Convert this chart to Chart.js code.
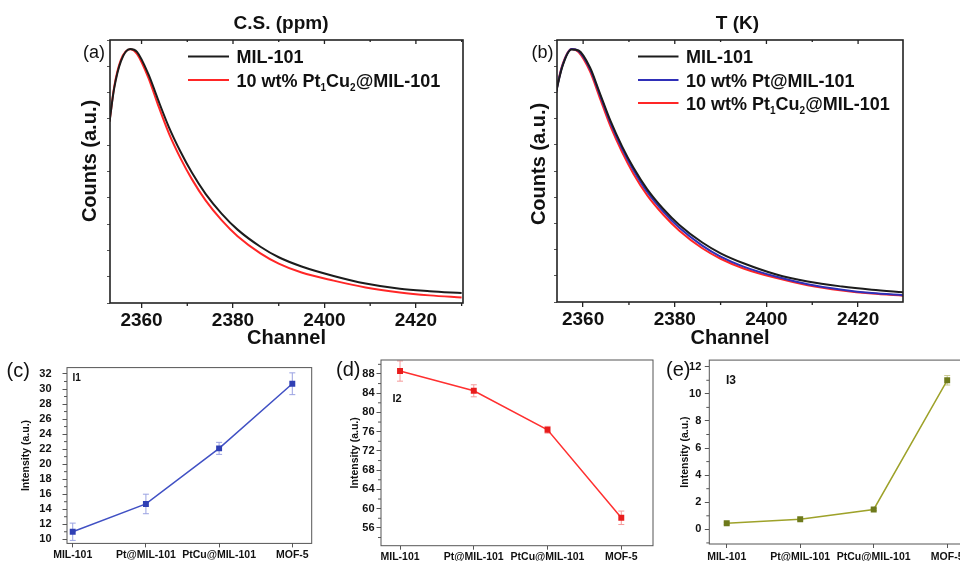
<!DOCTYPE html>
<html>
<head>
<meta charset="utf-8">
<script src="https://cdn.jsdelivr.net/npm/chart.js@4.4.0/dist/chart.umd.min.js"></script>
<style>
  html, body { margin: 0; padding: 0; background: #fff; }
  body { width: 960px; height: 561px; overflow: hidden; position: relative; }
  canvas { position: absolute; }
</style>
</head>
<body>
<canvas id="chartA" width="480" height="350" style="left:0;top:0"></canvas>
<canvas id="chartB" width="480" height="350" style="left:480px;top:0"></canvas>
<canvas id="chartC" width="320" height="211" style="left:0;top:350px"></canvas>
<canvas id="chartD" width="340" height="211" style="left:320px;top:350px"></canvas>
<canvas id="chartE" width="340" height="211" style="left:650px;top:350px"></canvas>
<script>
const FONT = "'Liberation Sans', Arial, sans-serif";

// decay curves (counts, arbitrary units) vs. channel
const channels = [2353, 2354, 2355.5, 2357.5, 2359, 2361.5, 2363.5, 2366, 2368.5, 2371, 2374, 2377.5, 2381, 2386, 2390, 2395, 2402, 2409, 2416.5, 2423, 2430];
const channelTicks = [2360, 2380, 2400, 2420];

const csMil101 = [69, 81.5, 92, 96.6, 95.5, 87.0, 77.8, 66.8, 57.6, 49.6, 41.5, 34.0, 27.9, 21.4, 17.4, 13.9, 10.3, 7.4, 5.4, 4.5, 3.8];
const csPtCu = [69, 82, 92.5, 96.5, 94.7, 85.6, 75.8, 64.4, 55.1, 47.1, 39.0, 31.5, 25.4, 18.9, 15.0, 11.6, 8.5, 5.9, 4.0, 2.9, 2.1];

const tMil101 = [69, 79, 90, 96.4, 96.0, 89.5, 80.4, 69.0, 59.4, 51.2, 43.0, 35.5, 29.4, 22.7, 18.6, 14.8, 10.6, 7.8, 5.9, 4.7, 3.7];
const tPt = [69, 79.2, 90.3, 96.6, 95.8, 89.0, 79.8, 68.3, 58.6, 50.3, 42.0, 34.5, 28.3, 21.5, 17.3, 13.5, 9.7, 6.8, 4.7, 3.4, 2.6];
const tPtCu = [69, 79.4, 90.6, 96.6, 95.4, 88.0, 78.6, 66.9, 57.2, 48.9, 40.7, 33.3, 27.2, 20.5, 16.5, 12.8, 9.2, 6.4, 4.4, 3.2, 2.4];

// component intensities per sample
const samples = ['MIL-101', 'Pt@MIL-101', 'PtCu@MIL-101', 'MOF-5'];
const i1 = [11.0, 14.7, 22.1, 30.7];
const i1Err = [1.15, 1.3, 0.8, 1.45];
const i2 = [88.6, 84.5, 76.4, 58.1];
const i2Err = [2.1, 1.25, 0.7, 1.4];
const i3 = [0.45, 0.74, 1.47, 11.0];
const i3Err = [0.08, 0.08, 0.08, 0.35];

Chart.defaults.font.family = FONT;
Chart.defaults.color = '#111';

// '_x' puts the character x in subscript
function richText(ctx, text, x, y, size) {
  ctx.textAlign = 'left';
  ctx.textBaseline = 'middle';
  let cx = x;
  text.split(/(_.)/).forEach((part) => {
    if (!part) { return; }
    const sub = part[0] === '_';
    const str = sub ? part.slice(1) : part;
    ctx.font = 'bold ' + (sub ? Math.round(size * 0.58) : size) + 'px ' + FONT;
    ctx.fillText(str, cx, sub ? y + size * 0.36 : y);
    cx += ctx.measureText(str).width;
  });
}

function midValues(scale) {
  const t = scale.ticks.map((k) => k.value);
  const out = [];
  if (t.length < 2) { return out; }
  const step = t[1] - t[0];
  for (let v = t[0] - step / 2; v <= scale.max; v += step) {
    if (v >= scale.min) { out.push(v); }
  }
  return out;
}

// frame, minor ticks, labels and the legend
const decor = {
  id: 'decor',
  afterDraw(chart, args, o) {
    const { ctx, chartArea: a, scales } = chart;
    ctx.save();
    ctx.strokeStyle = o.frameColor;
    ctx.lineWidth = o.frameWidth;
    ctx.strokeRect(a.left, a.top, a.right - a.left, a.bottom - a.top);

    ctx.lineWidth = o.tickWidth;
    ctx.beginPath();
    if (o.minorX) {
      midValues(scales.x).forEach((v) => {
        const px = scales.x.getPixelForValue(v);
        ctx.moveTo(px, a.bottom); ctx.lineTo(px, a.bottom + o.minorLen);
      });
    }
    if (o.topTicks) {
      scales.x.ticks.forEach((t) => {
        const px = scales.x.getPixelForValue(t.value);
        ctx.moveTo(px, a.top); ctx.lineTo(px, a.top + o.minorLen + 1);
      });
      midValues(scales.x).forEach((v) => {
        const px = scales.x.getPixelForValue(v);
        ctx.moveTo(px, a.top); ctx.lineTo(px, a.top + o.minorLen - 1);
      });
    }
    if (o.minorY) {
      midValues(scales.y).forEach((v) => {
        const py = scales.y.getPixelForValue(v);
        ctx.moveTo(a.left, py); ctx.lineTo(a.left - o.minorLen, py);
      });
    }
    ctx.stroke();

    (o.texts || []).forEach((t) => {
      ctx.save();
      ctx.fillStyle = t.color || '#111';
      ctx.font = (t.bold ? 'bold ' : '') + t.size + 'px ' + FONT;
      ctx.textAlign = t.align || 'left';
      ctx.textBaseline = 'middle';
      ctx.translate(t.x, t.y);
      if (t.rotate) { ctx.rotate(t.rotate); }
      ctx.fillText(t.text, 0, 0);
      ctx.restore();
    });

    if (o.legend) {
      const L = o.legend;
      chart.data.datasets.forEach((ds, i) => {
        const y = L.rows[i];
        ctx.strokeStyle = ds.borderColor;
        ctx.lineWidth = 2;
        ctx.beginPath();
        ctx.moveTo(L.x1, y - 1);
        ctx.lineTo(L.x2, y - 1);
        ctx.stroke();
        ctx.fillStyle = '#111';
        richText(ctx, ds.label, L.textX, y + 1, L.size);
      });
    }
    ctx.restore();
  }
};

// vertical error bars with caps, under the markers
const errorBars = {
  id: 'errorBars',
  beforeDatasetsDraw(chart, args, o) {
    if (!o.values) { return; }
    const { ctx, scales } = chart;
    const pts = chart.data.datasets[0].data;
    ctx.save();
    ctx.strokeStyle = o.color;
    ctx.lineWidth = 1;
    ctx.beginPath();
    pts.forEach((p, i) => {
      const x = scales.x.getPixelForValue(p.x);
      const y1 = scales.y.getPixelForValue(p.y + o.values[i]);
      const y2 = scales.y.getPixelForValue(p.y - o.values[i]);
      ctx.moveTo(x, y1); ctx.lineTo(x, y2);
      ctx.moveTo(x - 3, y1); ctx.lineTo(x + 3, y1);
      ctx.moveTo(x - 3, y2); ctx.lineTo(x + 3, y2);
    });
    ctx.stroke();
    ctx.restore();
  }
};

function curveChart(id, cfg) {
  return new Chart(document.getElementById(id), {
    type: 'line',
    data: {
      datasets: cfg.series.map((s) => ({
        label: s.label,
        data: channels.map((c, i) => ({ x: c, y: s.values[i] })),
        borderColor: s.color,
        borderWidth: 2,
        pointRadius: 0,
        cubicInterpolationMode: 'monotone',
        clip: 0
      }))
    },
    options: {
      responsive: false,
      animation: false,
      devicePixelRatio: 1,
      layout: { padding: { top: cfg.top, right: cfg.right, left: 0, bottom: 0 } },
      plugins: {
        legend: { display: false },
        tooltip: { enabled: false },
        decor: {
          frameColor: '#222', frameWidth: 1.6, tickWidth: 1.3, minorLen: 3,
          minorX: true, topTicks: true,
          texts: cfg.texts,
          legend: cfg.legend
        }
      },
      scales: {
        x: {
          type: 'linear',
          min: cfg.xMin,
          max: cfg.xMax,
          afterBuildTicks: (s) => { s.ticks = channelTicks.map((v) => ({ value: v })); },
          afterFit: (s) => { s.height = cfg.bottomH; },
          ticks: {
            autoSkip: false, maxRotation: 0, padding: 1.5,
            font: { size: 19, weight: 'bold' },
            color: '#111',
            callback: (v) => String(v)
          },
          grid: { display: true, drawOnChartArea: false, drawTicks: true, tickLength: 5, color: '#222', lineWidth: 1.3 },
          border: { display: false },
          title: { display: true, text: 'Channel', font: { size: 20, weight: 'bold' }, color: '#111', padding: 0 }
        },
        y: {
          min: 0,
          max: 100,
          afterFit: (s) => { s.width = cfg.left; },
          ticks: { display: false, stepSize: 10 },
          grid: { display: true, drawOnChartArea: false, drawTicks: true, tickLength: 3, color: '#555', lineWidth: 1 },
          border: { display: false }
        }
      }
    },
    plugins: [decor]
  });
}

function trendChart(id, cfg) {
  return new Chart(document.getElementById(id), {
    type: 'line',
    data: {
      datasets: [{
        data: cfg.values.map((v, i) => ({ x: i, y: v })),
        borderColor: cfg.line,
        borderWidth: 1.5,
        pointStyle: 'rect',
        pointRadius: 4.2,
        pointBackgroundColor: cfg.marker,
        pointBorderColor: cfg.marker,
        pointBorderWidth: 0,
        tension: 0
      }]
    },
    options: {
      responsive: false,
      animation: false,
      devicePixelRatio: 1,
      layout: { padding: { top: 10, right: cfg.right, left: 0, bottom: 0 } },
      plugins: {
        legend: { display: false },
        tooltip: { enabled: false },
        errorBars: { values: cfg.errors, color: cfg.errColor },
        decor: {
          frameColor: '#555', frameWidth: 1, tickWidth: 1, minorLen: 3,
          minorY: true,
          texts: cfg.texts
        }
      },
      scales: {
        x: {
          type: 'linear',
          min: cfg.xMin,
          max: cfg.xMax,
          afterBuildTicks: (s) => { s.ticks = samples.map((c, i) => ({ value: i })); },
          afterFit: (s) => { s.height = cfg.bottomH; },
          ticks: {
            autoSkip: false, maxRotation: 0, minRotation: 0, padding: cfg.xPad,
            font: { size: 10.5, weight: 'bold' },
            color: '#111',
            callback: (v) => samples[v]
          },
          grid: { display: true, drawOnChartArea: false, drawTicks: true, tickLength: 4, color: '#555', lineWidth: 1 },
          border: { display: false }
        },
        y: {
          min: cfg.yMin,
          max: cfg.yMax,
          afterFit: (s) => { s.width = cfg.left; },
          ticks: {
            stepSize: cfg.step, includeBounds: false, padding: cfg.yPad,
            font: { size: 11, weight: 'bold' },
            color: '#111'
          },
          grid: { display: true, drawOnChartArea: false, drawTicks: true, tickLength: 4.5, color: '#555', lineWidth: 1 },
          border: { display: false },
          title: { display: true, text: 'Intensity (a.u.)', font: { size: 10.5, weight: 'bold' }, color: '#111', padding: { top: cfg.titlePad } }
        }
      }
    },
    plugins: [errorBars, decor]
  });
}

curveChart('chartA', {
  top: 40, right: 17, left: 110, bottomH: 47,
  xMin: 2353.1, xMax: 2430.3,
  series: [
    { label: 'MIL-101', values: csMil101, color: '#1c1c1c' },
    { label: '10 wt% Pt_1Cu_2@MIL-101', values: csPtCu, color: '#ff2626' }
  ],
  legend: { x1: 188, x2: 229, textX: 236.5, rows: [57.5, 81], size: 18 },
  texts: [
    { text: 'C.S. (ppm)', x: 281, y: 24, size: 19, bold: true, align: 'center' },
    { text: '(a)', x: 83, y: 53, size: 18 },
    { text: 'Counts (a.u.)', x: 90.5, y: 161, size: 20, bold: true, align: 'center', rotate: -Math.PI / 2 }
  ]
});

curveChart('chartB', {
  top: 40, right: 57, left: 77, bottomH: 48,
  xMin: 2354.3, xMax: 2429.8,
  series: [
    { label: 'MIL-101', values: tMil101, color: '#1c1c1c' },
    { label: '10 wt% Pt@MIL-101', values: tPt, color: '#2f2fb8' },
    { label: '10 wt% Pt_1Cu_2@MIL-101', values: tPtCu, color: '#ff2626' }
  ],
  legend: { x1: 158, x2: 198.5, textX: 206, rows: [57.5, 81, 104], size: 18 },
  texts: [
    { text: 'T (K)', x: 257.5, y: 24, size: 19, bold: true, align: 'center' },
    { text: '(b)', x: 51.5, y: 53, size: 18 },
    { text: 'Counts (a.u.)', x: 59, y: 164, size: 20, bold: true, align: 'center', rotate: -Math.PI / 2 }
  ]
});

trendChart('chartC', {
  values: i1, errors: i1Err,
  line: '#4151c4', marker: '#2f3fb4', errColor: '#9aa2e2',
  left: 67, right: 8.3, bottomH: 16,
  xMin: -0.078, xMax: 3.265, xPad: 1,
  yMin: 9.45, yMax: 32.85, step: 2, yPad: 11, titlePad: 20,
  texts: [
    { text: '(c)', x: 6.5, y: 21, size: 20 },
    { text: 'I1', x: 72.5, y: 28, size: 10, bold: true }
  ]
});

trendChart('chartD', {
  values: i2, errors: i2Err,
  line: '#ff3030', marker: '#e81c1c', errColor: '#f59a9a',
  left: 61, right: 7, bottomH: 15.3,
  xMin: -0.258, xMax: 3.43, xPad: 1,
  yMin: 52.3, yMax: 90.9, step: 4, yPad: 2, titlePad: 28.4,
  texts: [
    { text: '(d)', x: 16, y: 20, size: 20 },
    { text: 'I2', x: 72.5, y: 48.5, size: 11, bold: true }
  ]
});

trendChart('chartE', {
  values: i3, errors: i3Err,
  line: '#9ea22a', marker: '#6e7a1c', errColor: '#c8c890',
  left: 59.3, right: 11.2, bottomH: 17,
  xMin: -0.237, xMax: 3.43, xPad: 2.5,
  yMin: -1.08, yMax: 12.49, step: 2, yPad: 3.5, titlePad: 28.4,
  texts: [
    { text: '(e)', x: 16, y: 20, size: 20 },
    { text: 'I3', x: 76, y: 31, size: 12, bold: true }
  ]
});
</script>
</body>
</html>
